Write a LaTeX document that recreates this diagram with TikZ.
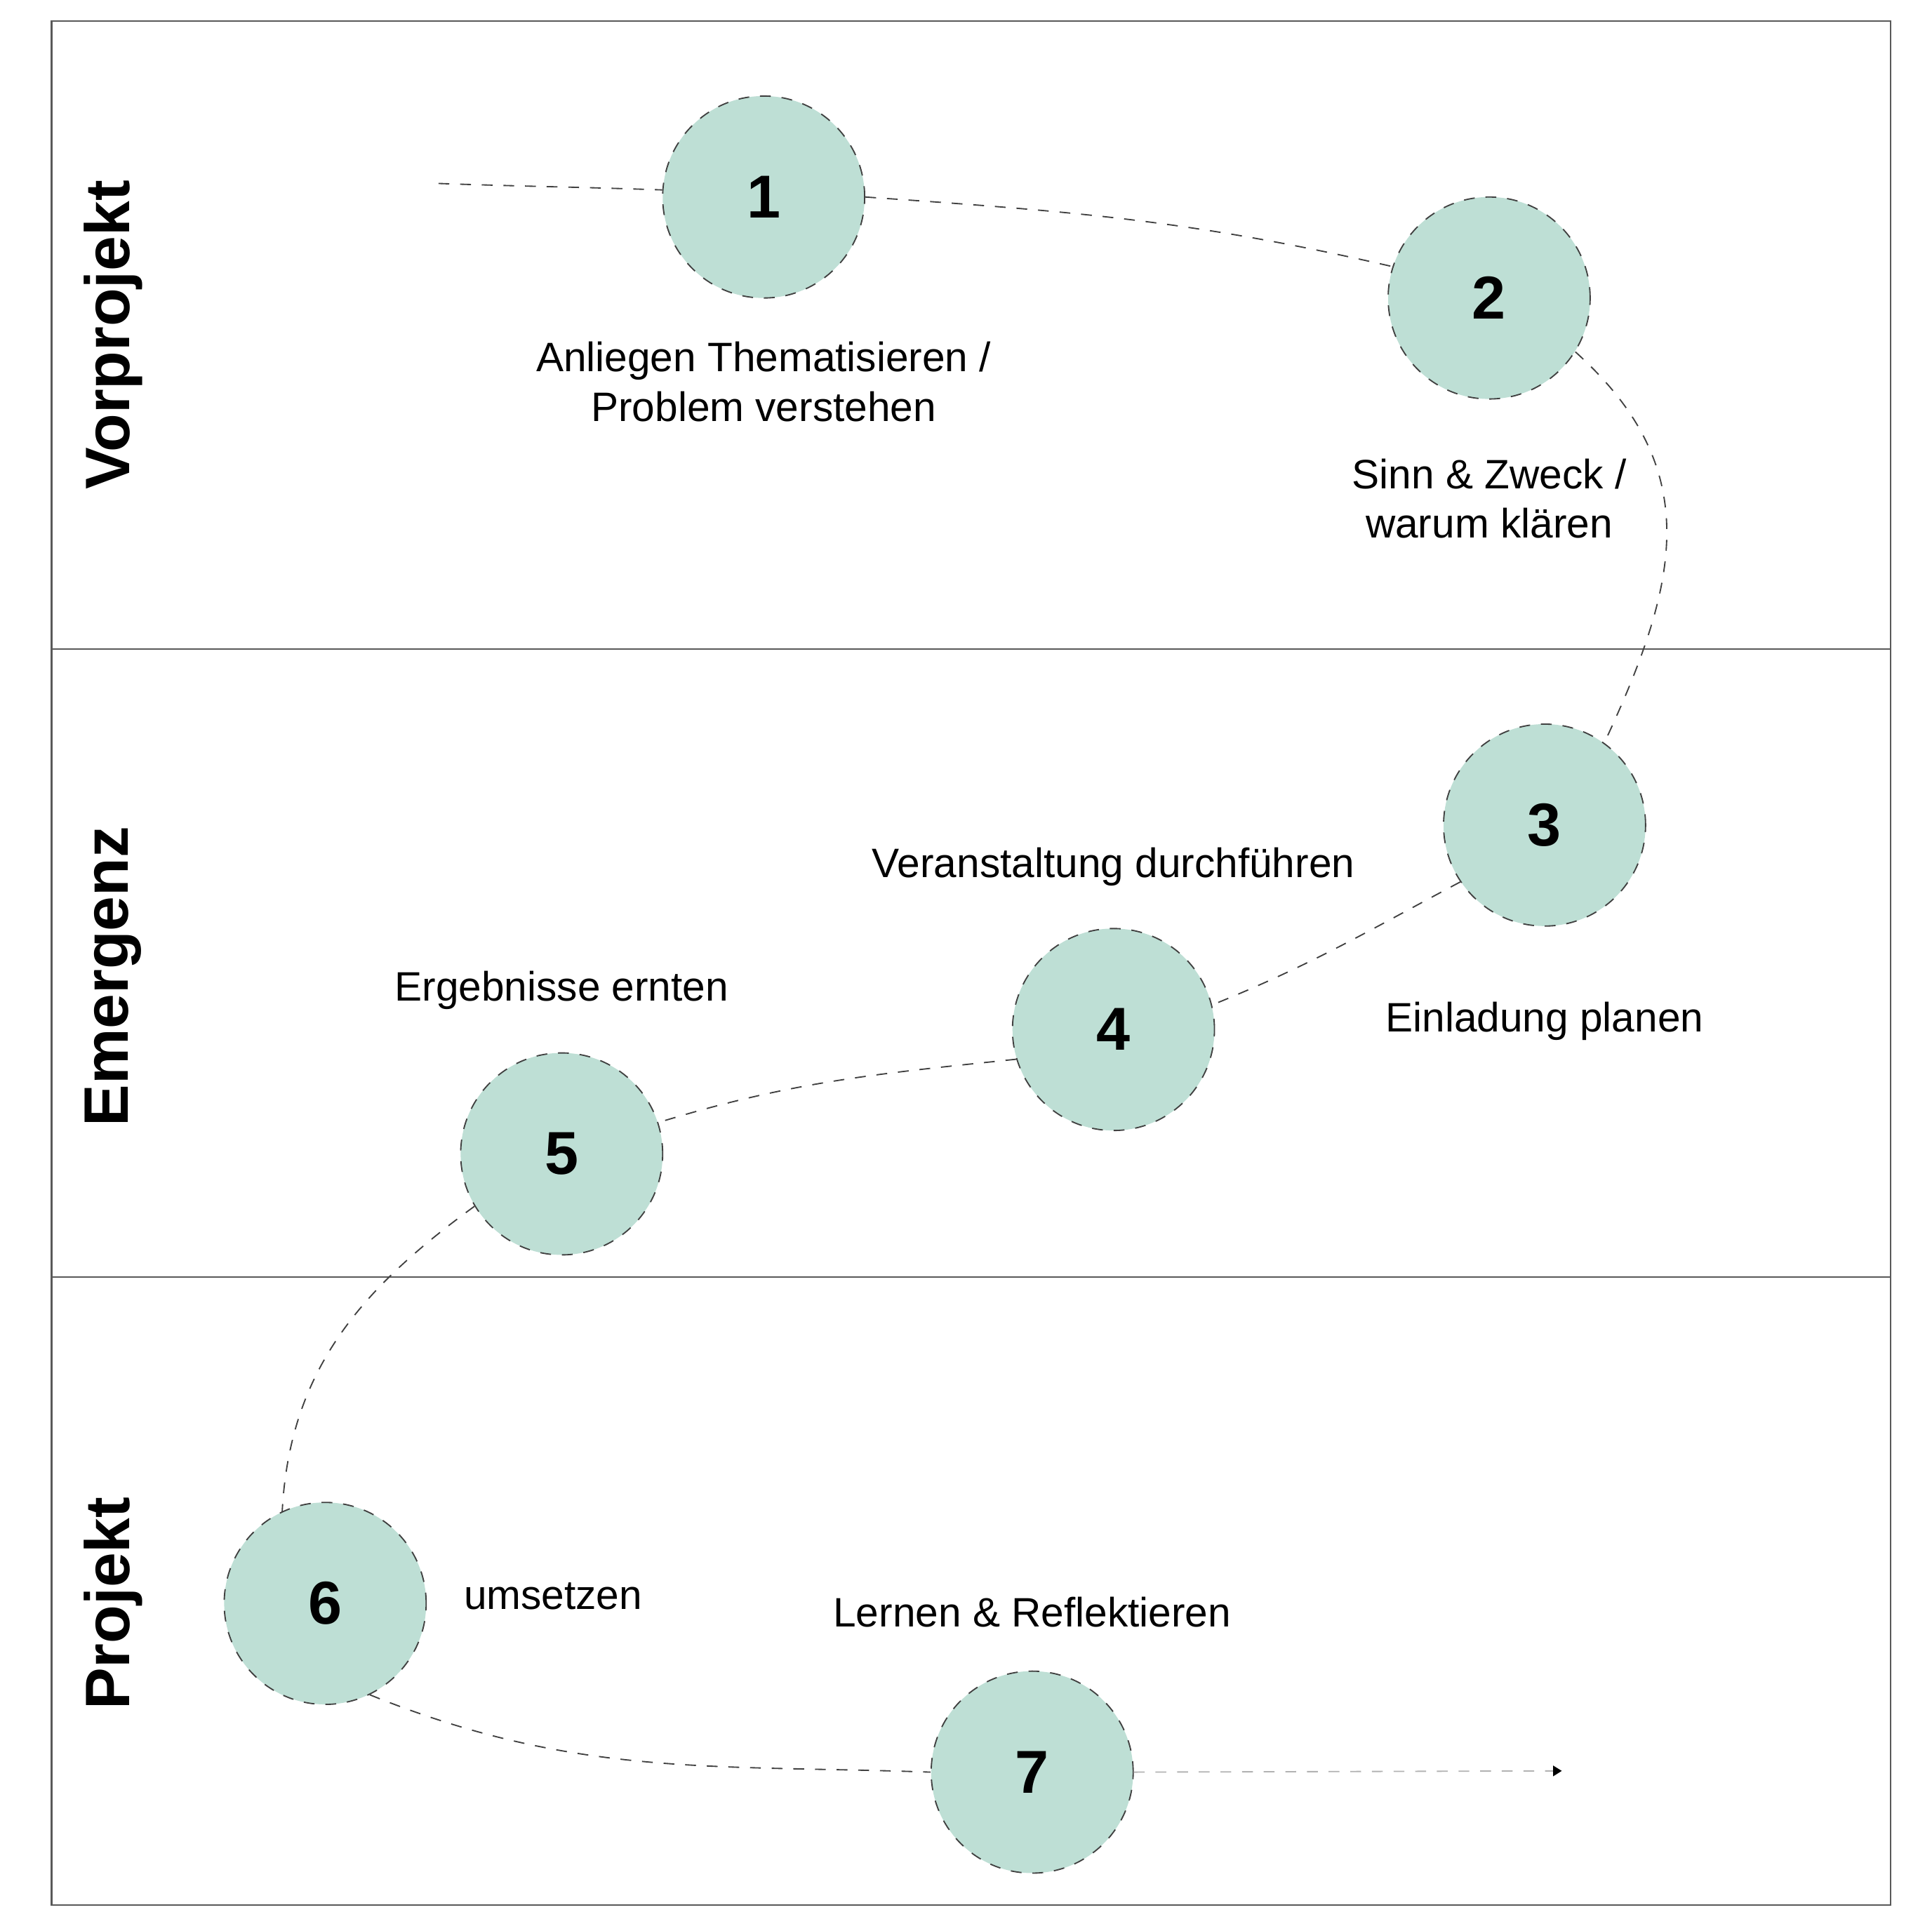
\documentclass[tikz,border=0pt]{standalone}
\usepackage{fontspec}
\setmainfont{Liberation Sans}
\usepackage{tikz}
\usetikzlibrary{arrows.meta}

\definecolor{stepfill}{HTML}{BEDFD5}
\definecolor{linkgray}{HTML}{404040}

\begin{document}
\begin{tikzpicture}
%\tikzstyle{place}=[circle,draw,fill=stepfill,minimum size=16mm]
\useasboundingbox (0,0) rectangle (15.68,15.68);
\tikzset{
    phase/.style={rotate=90,font=\fontsize{14.5}{17}\selectfont\bfseries},
    stepnode/.style={circle,draw=linkgray,line width=0.3pt,dash pattern=on 2.5pt off 2.5pt,fill=stepfill,minimum size=16.4mm,inner sep=0pt,font=\fontsize{14}{17}\selectfont\bfseries},
    caption/.style={align=center,font=\fontsize{9.5}{11.4}\selectfont},
    link/.style={draw=linkgray,line width=0.3pt,dash pattern=on 2.5pt off 2.5pt}
}
% frame and phases
\draw[gray!70!black,line width=0.4pt] (0.42,0.21) rectangle (15.35,15.51);
\draw[gray!70!black,line width=0.4pt] (0.42,10.41) -- (15.35,10.41);
\draw[gray!70!black,line width=0.4pt] (0.42,5.31) -- (15.35,5.31);
\node[phase] (vor) at (0.92,12.96) {Vorprojekt};
\node[phase] (eme) at (0.92,7.75) {Emergenz};
\node[phase] (pro) at (0.92,2.66) {Projekt};

\begin{scope}[every node/.style={stepnode}]
    \node (n1) at (6.20,14.08) {1};
    \node (n2) at (12.09,13.26) {2};
    \node (n3) at (12.54,8.98) {3};
    \node (n4) at (9.04,7.32) {4};
    \node (n5) at (4.56,6.31) {5};
    \node (n6) at (2.64,2.66) {6};
    \node (n7) at (8.38,1.29) {7};
\end{scope}

\begin{scope}[every node/.style={caption}]
    \node (t1) at (6.20,12.58) {Anliegen Thematisieren /\\Problem verstehen};
    \node (t2) at (12.09,11.63) {Sinn \& Zweck /\\warum klären};
    \node (t3) at (12.54,7.39) {Einladung planen};
    \node (t4) at (9.04,8.64) {Veranstaltung durchführen};
    \node (t5) at (4.56,7.64) {Ergebnisse ernten};
    \node (t6) at (4.49,2.72) {umsetzen};
    \node (t7) at (8.38,2.59) {Lernen \& Reflektieren};
\end{scope}

\coordinate (start) at (3.56,14.19);
\coordinate (goal) at (12.68,1.30);

\path [link] (start) edge[out=-2,in=178] (n1.176);
\path [link] (n1.0) edge[out=-4,in=167] (n2.162);
\path [link] (n2.-32) edge[out=-42,in=65,looseness=1.15] (n3.54);
\path [link] (n3.214) edge[out=208,in=22] (n4.14);
\path [link] (n4.197) edge[out=186,in=17] (n5.18);
\path [link] (n5.211) edge[out=216,in=87] (n6.115);
\path [link] (n6.-64) edge[out=-22,in=178] (n7.180);
\draw [link,draw=gray!60,-{Triangle[length=2pt,width=2.4pt,black]}] (n7.0) -- (goal);
\end{tikzpicture}
\end{document}
